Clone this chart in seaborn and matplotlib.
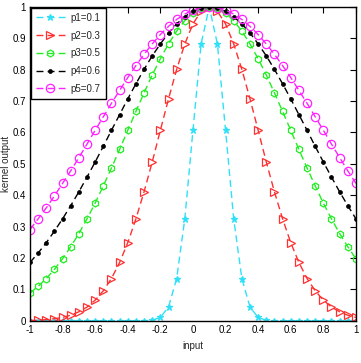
import numpy as np
import pandas as pd
import matplotlib
matplotlib.use("Agg")
import matplotlib.pyplot as plt
import seaborn as sns

x_vals = [round(-1 + 0.05 * i, 2) for i in range(41)]

p1 = [0]*15 + [0.002, 0.011, 0.044, 0.135, 0.325, 0.607, 0.882, 1.0,
               0.882, 0.607, 0.325, 0.135, 0.044, 0.011, 0.002] + [0]*11
p2 = [0.001, 0.002, 0.004, 0.007, 0.011, 0.018, 0.029, 0.044, 0.066, 0.096, 0.135,
      0.186, 0.249, 0.325, 0.411, 0.506, 0.607, 0.707, 0.801, 0.882, 0.946, 0.986, 1.0,
      0.986, 0.946, 0.882, 0.801, 0.707, 0.607, 0.506, 0.411, 0.325, 0.249, 0.186,
      0.135, 0.096, 0.066, 0.044, 0.029, 0.018, 0.011]
p3 = [0.089, 0.110, 0.135, 0.164, 0.198, 0.236, 0.278, 0.325, 0.375, 0.430, 0.487,
      0.546, 0.607, 0.667, 0.726, 0.783, 0.835, 0.882, 0.923, 0.956, 0.980, 0.995, 1.0,
      0.995, 0.980, 0.956, 0.923, 0.882, 0.835, 0.783, 0.726, 0.667, 0.607, 0.546,
      0.487, 0.430, 0.375, 0.325, 0.278, 0.236, 0.198]
p4 = [0.186, 0.216, 0.249, 0.286, 0.325, 0.367, 0.411, 0.458, 0.506, 0.556, 0.607,
      0.657, 0.707, 0.755, 0.801, 0.844, 0.882, 0.917, 0.946, 0.969, 0.986, 0.997, 1.0,
      0.997, 0.986, 0.969, 0.946, 0.917, 0.882, 0.844, 0.801, 0.755, 0.707, 0.657,
      0.607, 0.556, 0.506, 0.458, 0.411, 0.367, 0.325]
p5 = [0.291, 0.325, 0.360, 0.398, 0.438, 0.478, 0.520, 0.563, 0.607, 0.650, 0.693,
      0.734, 0.775, 0.813, 0.849, 0.882, 0.912, 0.938, 0.960, 0.977, 0.990, 0.997, 1.0,
      0.997, 0.990, 0.977, 0.960, 0.938, 0.912, 0.882, 0.849, 0.813, 0.775, 0.734,
      0.693, 0.650, 0.607, 0.563, 0.520, 0.478, 0.438]

labels = ["p1=0.1", "p2=0.3", "p3=0.5", "p4=0.6", "p5=0.7"]
series = [p1, p2, p3, p4, p5]

x_ticks = [-1, -0.8, -0.6, -0.4, -0.2, 0, 0.2, 0.4, 0.6, 0.8, 1]
x_ticklabels = ["-1", "-0.8", "-0.6", "-0.4", "-0.2", "0", "0.2", "0.4", "0.6", "0.8", "1"]
y_ticks = [0, 0.1, 0.2, 0.3, 0.4, 0.5, 0.6, 0.7, 0.8, 0.9, 1]
y_ticklabels = ["0", "0.1", "0.2", "0.3", "0.4", "0.5", "0.6", "0.7", "0.8", "0.9", "1"]

sns.set_style("white")
plt.rcParams['font.family'] = ['Liberation Sans', 'DejaVu Sans']

fig = plt.figure(figsize=(3.61, 3.63), dpi=100)
ax = fig.add_axes([0.083, 0.116, 0.903, 0.865])

styles = [
    dict(color="#30e0f8", marker="*", mfc="#30e0f8", ms=5),
    dict(color="#ff3030", marker=">", mfc="none", ms=6),
    dict(color="#22ee22", marker="h", mfc="none", ms=5),
    dict(color="black", marker=".", mfc="black", ms=5),
    dict(color="#ff22ff", marker="o", mfc="none", ms=6),
]

for lab, vals, st in zip(labels, series, styles):
    df = pd.DataFrame({"input": x_vals, "kernel output": vals})
    sns.lineplot(data=df, x="input", y="kernel output", ax=ax, label=lab,
                 color=st["color"], linewidth=1.0,
                 marker=st["marker"], markersize=st["ms"],
                 markerfacecolor=st["mfc"], markeredgecolor=st["color"],
                 markeredgewidth=0.9, dashes=(5, 3))

ax.set_xlim(-1, 1)
ax.set_ylim(0, 1)
ax.set_xticks(x_ticks)
ax.set_xticklabels(x_ticklabels)
ax.set_yticks(y_ticks)
ax.set_yticklabels(y_ticklabels)
ax.tick_params(direction="in", length=4, width=0.8, labelsize=7, top=True, right=True,
               colors="black", pad=3)
for sp in ax.spines.values():
    sp.set_visible(True)
    sp.set_color("black")
    sp.set_linewidth(1.0)
ax.set_xlabel("input", fontsize=7, labelpad=4)
ax.set_ylabel("kernel output", fontsize=7, labelpad=1)

leg = ax.legend(loc="upper left", fontsize=7, frameon=True, fancybox=False,
                edgecolor="black", borderaxespad=0.1, handlelength=3.0,
                labelspacing=0.8, borderpad=0.5, handletextpad=0.6)
leg.get_frame().set_linewidth(1.0)
leg.get_frame().set_alpha(1)

fig.savefig("out.png", dpi=100)
